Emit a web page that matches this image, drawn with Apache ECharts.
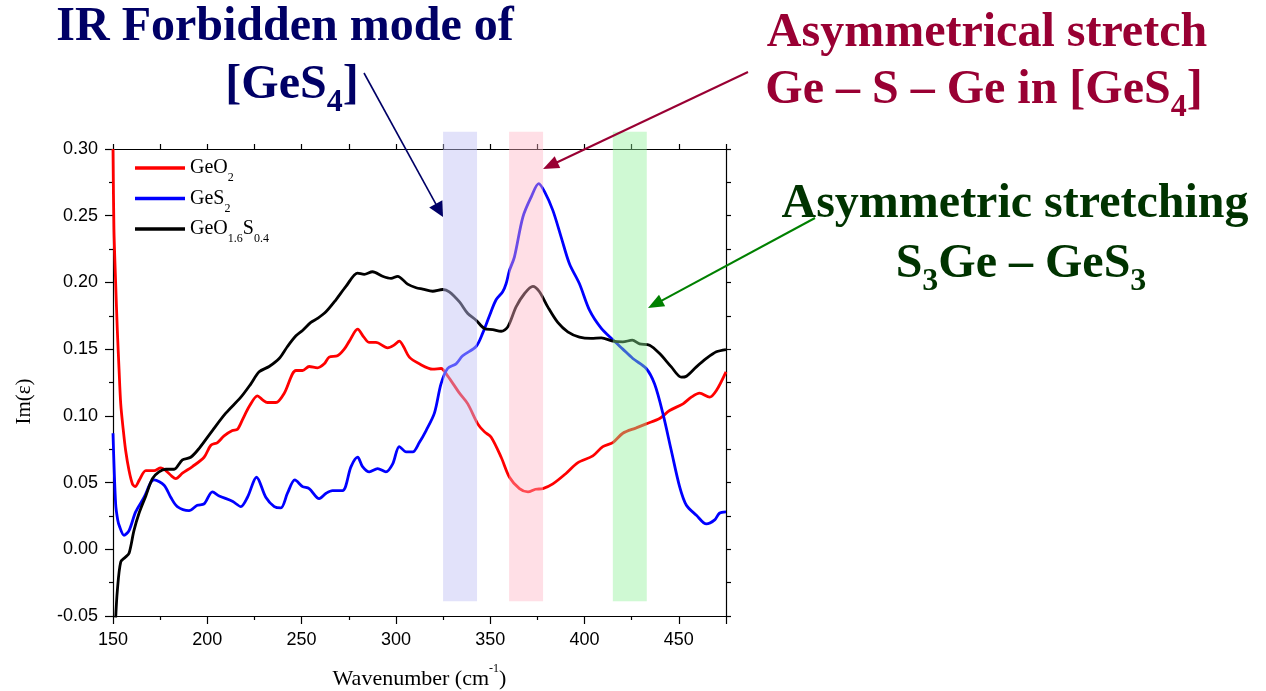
<!DOCTYPE html>
<html>
<head>
<meta charset="utf-8">
<script src="https://cdn.jsdelivr.net/npm/echarts@6/dist/echarts.min.js"></script>
<style>
html,body{margin:0;padding:0;background:#fff;}
#chart{width:1266px;height:691px;}
</style>
</head>
<body>
<div id="chart"></div>
<script>
// ---------------- data ----------------
const seriesNames = ['GeO2', 'GeS2', 'GeO1.6S0.4'];

const wnGeO2 = [150, 150.5, 151.4, 152.3, 153.2, 154.1, 155.4, 156.7, 158.5, 160.3, 161.7, 164, 167.4, 171.8, 175.3, 178, 181, 183.3, 186.8, 192.1, 198.3, 201.9, 205.4, 208.9, 213.3, 216, 218.6, 222.2, 226.6, 229.3, 231.9, 236.4, 240.8, 247, 250.5, 254, 258.4, 262, 264.6, 269, 272.6, 275.3, 279.7, 283, 285.9, 289.4, 295.6, 299, 301.8, 304, 307.1, 312.4, 319.5, 323.9, 327.4, 333.7, 338.1, 343.4, 347, 350.5, 355.8, 360.2, 365.5, 370, 374, 377.9, 383.2, 390.3, 396.5, 404.4, 409.7, 415, 420.3, 427.4, 432.7, 439.8, 445.1, 452.2, 456.6, 461, 466.3, 469.9, 475];
const imGeO2 = [0.30, 0.24, 0.20, 0.164, 0.135, 0.109, 0.09, 0.074, 0.059, 0.049, 0.047, 0.052, 0.059, 0.059, 0.061, 0.059, 0.055, 0.053, 0.057, 0.062, 0.069, 0.078, 0.080, 0.085, 0.089, 0.090, 0.097, 0.107, 0.115, 0.112, 0.110, 0.110, 0.117, 0.134, 0.134, 0.137, 0.136, 0.139, 0.144, 0.145, 0.150, 0.156, 0.165, 0.159, 0.155, 0.155, 0.151, 0.153, 0.156, 0.152, 0.144, 0.139, 0.135, 0.1355, 0.130, 0.117, 0.109, 0.094, 0.088, 0.084, 0.069, 0.054, 0.0455, 0.043, 0.045, 0.0455, 0.049, 0.057, 0.065, 0.070, 0.077, 0.080, 0.087, 0.091, 0.094, 0.098, 0.104, 0.109, 0.114, 0.117, 0.114, 0.119, 0.133];

const wnGeS2 = [150, 151.4, 152.5, 153.5, 155.8, 158.5, 162, 166.5, 170, 171.8, 177.1, 180.6, 184.1, 190.3, 194.7, 198.3, 202.7, 206.3, 213.3, 217.8, 221.3, 226.1, 231, 235.5, 239, 242.5, 246.4, 250.5, 254, 259.3, 263, 266.4, 271.7, 276.2, 279.7, 282.3, 285.9, 290.3, 294.7, 298.3, 301.8, 305.4, 308.9, 312.4, 316, 320.4, 323.9, 327.4, 331.9, 335.4, 342.5, 346, 349.6, 353.1, 356.6, 358.4, 360.2, 362.8, 367.3, 371.7, 375.7, 378.8, 383.2, 387.6, 392, 397.3, 402.7, 408.9, 415, 420.3, 425.6, 432.7, 437.1, 441.5, 446, 450.4, 454, 459.3, 464.6, 469, 471.5, 475];
const imGeS2 = [0.087, 0.034, 0.022, 0.017, 0.0105, 0.014, 0.028, 0.039, 0.050, 0.052, 0.048, 0.039, 0.032, 0.029, 0.033, 0.034, 0.043, 0.040, 0.036, 0.032, 0.039, 0.054, 0.039, 0.032, 0.031, 0.042, 0.052, 0.047, 0.0455, 0.038, 0.042, 0.044, 0.044, 0.062, 0.069, 0.062, 0.058, 0.0605, 0.058, 0.064, 0.077, 0.073, 0.073, 0.080, 0.089, 0.102, 0.124, 0.1355, 0.139, 0.145, 0.152, 0.162, 0.175, 0.187, 0.193, 0.199, 0.209, 0.219, 0.249, 0.264, 0.274, 0.268, 0.254, 0.234, 0.214, 0.199, 0.179, 0.1655, 0.157, 0.150, 0.143, 0.1355, 0.124, 0.102, 0.074, 0.047, 0.033, 0.0255, 0.019, 0.022, 0.027, 0.028];

const wnGeOS = [151.3, 152.3, 154.1, 156.5, 158.5, 161.1, 163.8, 167.4, 170.9, 174.4, 178, 182.4, 186.8, 191.2, 195.6, 202.7, 209.8, 217.8, 223.1, 227.5, 232.8, 238.1, 242.5, 247, 250.5, 254.9, 258.4, 262.9, 268.2, 273.5, 279.7, 283.2, 287.6, 292.9, 297.4, 300.9, 306.2, 310.7, 314.2, 319.5, 324.8, 328.3, 333.7, 338.1, 342.5, 346.9, 351.3, 355.8, 359.3, 363.7, 368.2, 372.6, 376.1, 380.5, 385.8, 391.1, 397.3, 403.5, 408.9, 415, 420.3, 425.3, 429.2, 434.5, 439.8, 446, 451.3, 454, 459.3, 464.6, 469.9, 475];
const imGeOS = [-0.055, -0.031, -0.0095, -0.006, -0.003, 0.014, 0.027, 0.040, 0.053, 0.058, 0.060, 0.060, 0.067, 0.069, 0.0755, 0.089, 0.102, 0.114, 0.124, 0.133, 0.137, 0.143, 0.152, 0.160, 0.164, 0.170, 0.173, 0.178, 0.187, 0.197, 0.207, 0.206, 0.208, 0.2046, 0.203, 0.2046, 0.1987, 0.196, 0.195, 0.1934, 0.1947, 0.193, 0.1854, 0.1767, 0.1717, 0.1655, 0.1647, 0.1634, 0.1667, 0.1817, 0.1917, 0.197, 0.193, 0.1817, 0.170, 0.163, 0.159, 0.158, 0.1584, 0.156, 0.1555, 0.1567, 0.154, 0.153, 0.1467, 0.1367, 0.129, 0.1297, 0.1367, 0.143, 0.148, 0.1497];

// highlighted bands (wavenumber ranges) and their vertical extent (Im(ε))
const bandStart = [325, 360, 415];
const bandEnd = [343, 378, 433];
const bandLow = -0.039;
const bandHigh = 0.313;

const xTickValues = [150, 200, 250, 300, 350, 400, 450];

// ---------------- chart ----------------
const zip = (xs, ys) => xs.map((x, i) => [x, ys[i]]);
const chart = echarts.init(document.getElementById('chart'), null, {renderer: 'canvas'});

const serifFont = '"Liberation Serif", "Times New Roman", serif';
const sansFont = '"Liberation Sans", Arial, sans-serif';
const colors = ['#ff0000', '#0000ff', '#000000'];
const bandColors = ['rgba(193,193,245,0.47)', 'rgba(255,178,196,0.42)', 'rgba(140,240,150,0.42)'];

const legendRich = {
  'GeO2': '{m|GeO}{s|2}',
  'GeS2': '{m|GeS}{s|2}',
  'GeO1.6S0.4': '{m|GeO}{s|1.6}{m|S}{s|0.4}'
};

function arrow(x1, y1, tx, ty, color, lw, headLen, headHalf) {
  const dx = tx - x1, dy = ty - y1;
  const L = Math.sqrt(dx * dx + dy * dy);
  const ux = dx / L, uy = dy / L;
  const bx = tx - ux * headLen, by = ty - uy * headLen;
  const px = -uy, py = ux;
  return [
    {type: 'line', shape: {x1: x1, y1: y1, x2: bx + ux * 2, y2: by + uy * 2}, style: {stroke: color, lineWidth: lw}, z: 100},
    {type: 'polygon', shape: {points: [[tx, ty], [bx + px * headHalf, by + py * headHalf], [bx - px * headHalf, by - py * headHalf]]}, style: {fill: color}, z: 100}
  ];
}

const bigRich = function (color) {
  return {
    m: {fontSize: 48, fontWeight: 'bold', fontFamily: serifFont, fill: color, color: color, lineHeight: 56},
    s: {fontSize: 32, fontWeight: 'bold', fontFamily: serifFont, fill: color, color: color, lineHeight: 20, padding: [34, 0, 0, 0]}
  };
};
function bigText(x, y, text, color) {
  return {
    type: 'text', x: x, y: y, z: 100,
    style: {text: text, align: 'center', verticalAlign: 'middle', rich: bigRich(color),
      font: 'bold 48px ' + serifFont, fill: color}
  };
}

const navy = '#000066', crimson = '#990033', dgreen = '#003300';

const graphics = [].concat(
  [bigText(285, 28, '{m|IR Forbidden mode of}', navy),
   bigText(292, 86, '{m|[GeS}{s|4}{m|]}', navy),
   bigText(987, 34, '{m|Asymmetrical stretch}', crimson),
   bigText(984, 91, '{m|Ge – S – Ge in [GeS}{s|4}{m|]}', crimson),
   bigText(1015, 205, '{m|Asymmetric stretching}', dgreen),
   bigText(1021, 265, '{m|S}{s|3}{m|Ge – GeS}{s|3}', dgreen)],
  arrow(364, 73, 443, 217, navy, 1.6, 15, 7.5),
  arrow(748, 72, 543, 169, crimson, 2, 16, 6.5),
  arrow(815, 218, 648, 308, '#008000', 2, 16, 6.5)
);

const option = {
  backgroundColor: '#ffffff',
  animation: false,
  grid: {left: 113, right: 540, top: 149, bottom: 75, containLabel: false, outerBoundsMode: 'none'},
  legend: {
    data: seriesNames,
    orient: 'vertical',
    left: 135, top: 152,
    padding: 0,
    icon: 'rect',
    itemWidth: 50, itemHeight: 3.5, itemGap: -1.5,
    formatter: function (name) { return legendRich[name]; },
    textStyle: {
      fontFamily: serifFont, fontSize: 20, color: '#000',
      rich: {
        m: {fontFamily: serifFont, fontSize: 20, color: '#000', lineHeight: 20},
        s: {fontFamily: serifFont, fontSize: 12, color: '#000', lineHeight: 10, padding: [20, 0, 0, 0]}
      }
    }
  },
  xAxis: [{
    type: 'value', position: 'bottom', min: 150, max: 475, interval: 50,
    name: 'Wavenumber (cm{sup|-1})', nameLocation: 'middle', nameGap: 52,
    nameTextStyle: {fontFamily: serifFont, fontSize: 22, color: '#000',
      rich: {sup: {fontFamily: serifFont, fontSize: 12, color: '#000', lineHeight: 10, padding: [0, 0, 20, 0]}}},
    axisLine: {show: true, onZero: false, lineStyle: {color: '#000', width: 1.2}},
    axisTick: {show: true, length: 8, lineStyle: {color: '#000', width: 1.2}},
    minorTick: {show: true, splitNumber: 2, length: 4, lineStyle: {color: '#000', width: 1.2}},
    axisLabel: {fontFamily: sansFont, fontSize: 18, color: '#000', margin: 15, showMaxLabel: false,
      formatter: function (v) { return xTickValues.indexOf(v) >= 0 ? String(v) : ''; }},
    splitLine: {show: false}
  }, {
    type: 'value', position: 'top', min: 150, max: 475, interval: 25,
    axisLine: {show: true, onZero: false, lineStyle: {color: '#000', width: 1.2}},
    axisTick: {show: true, length: 5, lineStyle: {color: '#000', width: 1.2}},
    axisLabel: {show: false}, splitLine: {show: false}
  }],
  yAxis: [{
    type: 'value', position: 'left', min: -0.05, max: 0.30, interval: 0.05,
    name: 'Im(ε)', nameLocation: 'middle', nameGap: 78,
    nameTextStyle: {fontFamily: serifFont, fontSize: 21, color: '#000', padding: [0, 38, 0, 0]},
    axisLine: {show: true, onZero: false, lineStyle: {color: '#000', width: 1.2}},
    axisTick: {show: true, length: 8, lineStyle: {color: '#000', width: 1.2}},
    minorTick: {show: true, splitNumber: 2, length: 4, lineStyle: {color: '#000', width: 1.2}},
    axisLabel: {fontFamily: sansFont, fontSize: 18, color: '#000', margin: 15,
      formatter: function (v) { return v.toFixed(2); }},
    splitLine: {show: false}
  }, {
    type: 'value', position: 'right', min: -0.05, max: 0.30, interval: 0.025,
    axisLine: {show: true, onZero: false, lineStyle: {color: '#000', width: 1.2}},
    axisTick: {show: true, length: 5, lineStyle: {color: '#000', width: 1.2}},
    axisLabel: {show: false}, splitLine: {show: false}
  }],
  series: [
    {name: seriesNames[0], type: 'line', data: zip(wnGeO2, imGeO2), showSymbol: false, symbol: 'none', smooth: 0.3,
      lineStyle: {color: colors[0], width: 2.8}, itemStyle: {color: colors[0]}, z: 3},
    {name: seriesNames[1], type: 'line', data: zip(wnGeS2, imGeS2), showSymbol: false, symbol: 'none', smooth: 0.3,
      lineStyle: {color: colors[1], width: 2.8}, itemStyle: {color: colors[1]}, z: 3},
    {name: seriesNames[2], type: 'line', data: zip(wnGeOS, imGeOS), showSymbol: false, symbol: 'none', smooth: 0.3,
      lineStyle: {color: colors[2], width: 2.8}, itemStyle: {color: colors[2]}, z: 3},
    {name: 'bands', type: 'custom', clip: false, silent: true, z: 10,
      encode: {x: [0, 1], y: [2, 3]},
      data: bandStart.map((s, i) => [s, bandEnd[i], bandLow, bandHigh]),
      renderItem: function (params, api) {
        const p1 = api.coord([api.value(0), api.value(3)]);
        const p2 = api.coord([api.value(1), api.value(2)]);
        return {type: 'rect', shape: {x: p1[0], y: p1[1], width: p2[0] - p1[0], height: p2[1] - p1[1]},
          style: {fill: bandColors[params.dataIndex]}};
      }}
  ],
  graphic: graphics
};
chart.setOption(option);
</script>
</body>
</html>
